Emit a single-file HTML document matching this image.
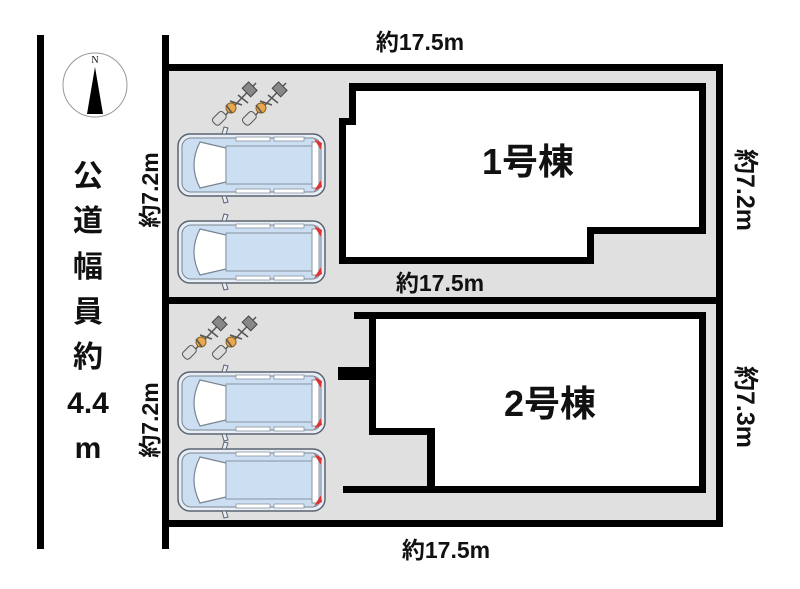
<!DOCTYPE html>
<html><head><meta charset="utf-8"><style>
html,body{margin:0;padding:0;background:#fff;}
svg{display:block;}
text{font-family:"Liberation Sans","Noto Sans CJK JP",sans-serif;font-weight:bold;fill:#111;}
</style></head><body>
<svg width="800" height="589" viewBox="0 0 800 589" xmlns="http://www.w3.org/2000/svg">
<defs>
<g id="car">
  <rect x="0" y="0" width="147" height="62" rx="12" fill="#e8eef6" stroke="#5a6470" stroke-width="1.5"/>
  <rect x="4" y="4" width="139" height="54" rx="9" fill="#ccdff2" stroke="#7a8590" stroke-width="1"/>
  <path d="M22 8 Q10 31 22 54 L48 48 L48 14 Z" fill="#fff" stroke="#7a8590" stroke-width="1.2"/>
  <rect x="48" y="12" width="86" height="38" fill="#ccdff2" stroke="#8893a0" stroke-width="1"/>
  <rect x="134" y="8" width="7" height="46" fill="#fff" stroke="#8893a0" stroke-width="1"/>
  <path d="M136 5 L144 9 L143 16 Z" fill="#d33"/>
  <path d="M136 57 L144 53 L143 46 Z" fill="#d33"/>
  <rect x="58" y="3" width="34" height="4" fill="#fff" stroke="#8893a0" stroke-width=".8"/>
  <rect x="96" y="3" width="30" height="4" fill="#fff" stroke="#8893a0" stroke-width=".8"/>
  <rect x="58" y="55" width="34" height="4" fill="#fff" stroke="#8893a0" stroke-width=".8"/>
  <rect x="96" y="55" width="30" height="4" fill="#fff" stroke="#8893a0" stroke-width=".8"/>
  <path d="M44 0 L46 -7 L50 -6 L48 0 Z" fill="#e8eef6" stroke="#5a6470" stroke-width="1"/>
  <path d="M44 62 L46 69 L50 68 L48 62 Z" fill="#e8eef6" stroke="#5a6470" stroke-width="1"/>
</g>
<g id="bike">
  <line x1="0" y1="40" x2="38" y2="0" stroke="#555" stroke-width="1.5"/>
  <rect x="-3" y="28" width="9" height="14" rx="3" transform="rotate(45 1 35)" fill="#ddd" stroke="#555"/>
  <circle cx="13" cy="25" r="5" fill="#e8a850" stroke="#8a6020" stroke-width="1"/>
  <path d="M12 18 L24 22 M20 12 L30 20 M8 22 L14 30" stroke="#555" stroke-width="1.5"/>
  <rect x="26" y="2" width="12" height="9" transform="rotate(45 32 6)" fill="#888" stroke="#444"/>
</g>
</defs>
<!-- road line -->
<rect x="37" y="35" width="7" height="514" fill="#000"/>
<!-- compass -->
<circle cx="95" cy="85" r="32" fill="#fff" stroke="#999" stroke-width="1"/>
<text x="95" y="63" font-size="10" text-anchor="middle" style="font-weight:normal;font-family:'Liberation Serif',serif">N</text>
<polygon points="95,67 87,114 103,114" fill="#000"/>
<!-- road text -->
<g font-size="30" text-anchor="middle">
<text x="88" y="186">公</text>
<text x="88" y="231">道</text>
<text x="88" y="277">幅</text>
<text x="88" y="322">員</text>
<text x="88" y="367">約</text>
<text x="88" y="413">4.4</text>
<text x="88" y="458">m</text>
</g>
<!-- lot -->
<rect x="166" y="67" width="553" height="457" fill="#e0e0e0"/>
<rect x="162" y="35" width="7" height="514" fill="#000"/>
<rect x="162" y="64" width="560" height="7" fill="#000"/>
<rect x="716" y="64" width="7" height="463" fill="#000"/>
<rect x="162" y="297" width="560" height="7" fill="#000"/>
<rect x="162" y="520" width="560" height="7" fill="#000"/>
<!-- building 1 -->
<path d="M349 83 L706 83 L706 234 L594 234 L594 264 L339 264 L339 118 L349 118 Z" fill="#000"/>
<path d="M356 91 L699 91 L699 227 L587 227 L587 257 L346 257 L346 125 L356 125 Z" fill="#fff"/>
<text x="528" y="174" font-size="36" text-anchor="middle">1号棟</text>
<!-- building 2 -->
<path d="M354 312 L706 312 L706 493 L343 493 L343 486 L427 486 L427 435 L369 435 L369 380 L338 380 L338 367 L369 367 L369 319 L354 319 Z" fill="#000"/>
<path d="M376 319 L699 319 L699 486 L435 486 L435 428 L376 428 Z" fill="#fff"/>
<text x="550" y="416" font-size="36" text-anchor="middle">2号棟</text>
<!-- cars -->
<use href="#car" x="178" y="134"/>
<use href="#car" x="178" y="221"/>
<use href="#car" x="178" y="372"/>
<use href="#car" x="178" y="449"/>
<!-- bikes -->
<use href="#bike" x="218" y="83"/>
<use href="#bike" x="248" y="83"/>
<use href="#bike" x="188" y="317"/>
<use href="#bike" x="218" y="317"/>
<!-- dimension labels -->
<g font-size="23" text-anchor="middle">
<text x="420" y="50">約17.5m</text>
<text x="440" y="291">約17.5m</text>
<text x="446" y="558">約17.5m</text>
<text transform="translate(158,190) rotate(-90)">約7.2m</text>
<text transform="translate(158,420) rotate(-90)">約7.2m</text>
<text transform="translate(737,190) rotate(90)" font-size="25">約7.2m</text>
<text transform="translate(737,407) rotate(90)" font-size="25">約7.3m</text>
</g>
</svg>
</body></html>
